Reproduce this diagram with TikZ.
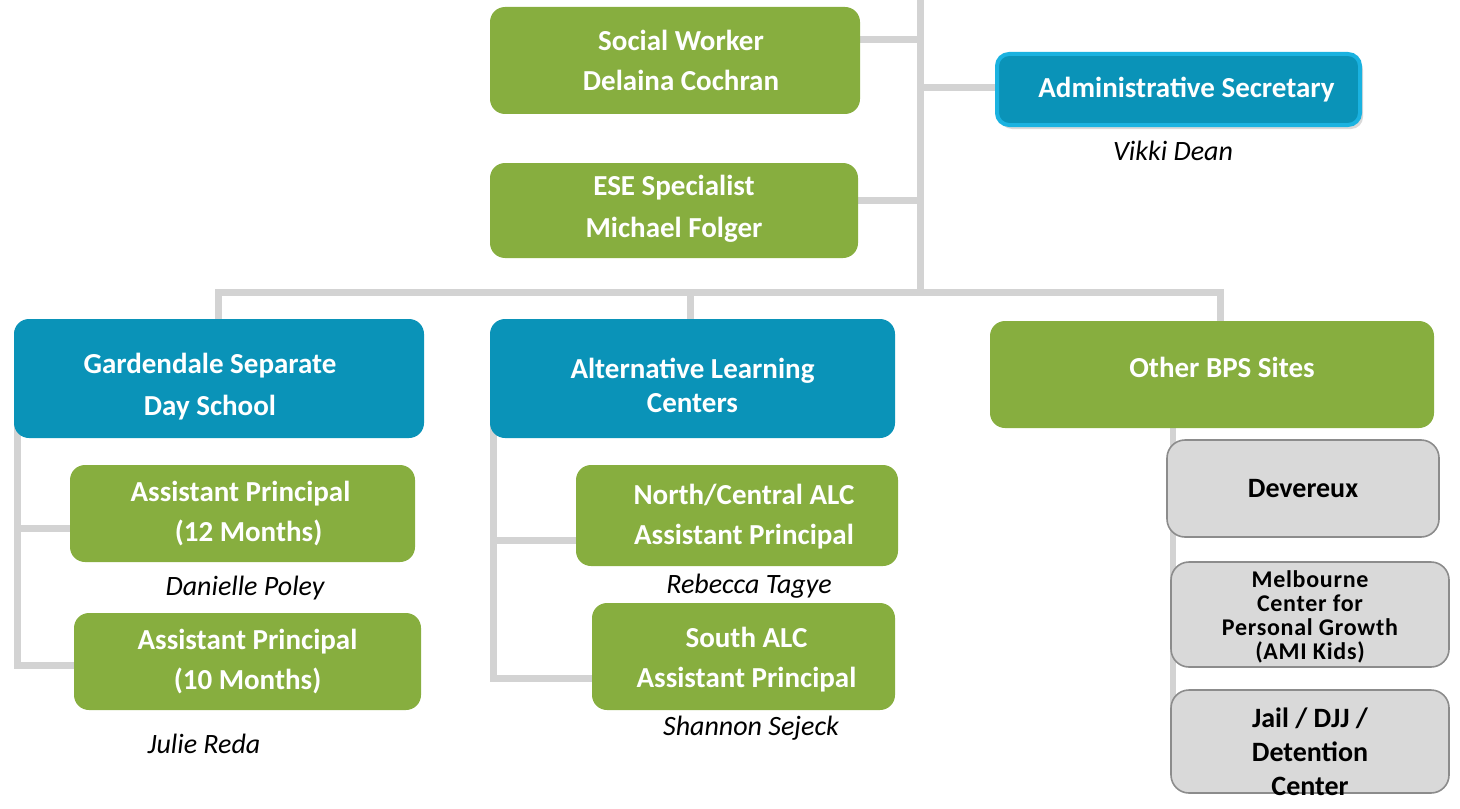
\documentclass[tikz,border=0pt]{standalone}
\usepackage{fontspec}
\setmainfont{Carlito}
\usetikzlibrary{backgrounds,shadows}
\definecolor{grn}{HTML}{87AE3F}
\definecolor{blu}{HTML}{0A93B8}
\definecolor{blul}{HTML}{1AB2E0}
\definecolor{conn}{HTML}{D3D3D3}
\definecolor{gbox}{HTML}{D9D9D9}
\definecolor{gbord}{HTML}{8C8C8C}
\tikzset{
  base/.style={rectangle, rounded corners=7.5pt, align=center, inner sep=0pt,
    font=\fontsize{14.5}{20}\selectfont\bfseries, text=white},
  greenbox/.style={base, fill=grn},
  bluebox/.style={base, fill=blu},
  adminbox/.style={base, fill=blu, draw=blul, line width=2pt, rounded corners=6pt,
    drop shadow={shadow xshift=1.5pt, shadow yshift=-2pt, opacity=0.3}},
  graybox/.style={base, fill=gbox, draw=gbord, line width=0.8pt, text=black, rounded corners=9pt},
  boxtext/.style={inner sep=0pt, align=center, text=white, font=\fontsize{14.5}{20}\selectfont\bfseries},
  person/.style={font=\fontsize{14}{16}\selectfont\itshape, inner sep=0pt, anchor=base},
  link/.style={draw=conn, line width=3.5pt},
  thinlink/.style={draw=conn, line width=3pt},
}
\begin{document}
\begin{tikzpicture}[x=0.5pt,y=-0.5pt]
\useasboundingbox (0,0) rectangle (1460,808);

% boxes
\node[greenbox, minimum width=185pt, minimum height=53.5pt] (sw) at (675,60.5) {};
\node[boxtext] (swt) at ([xshift=3pt]sw.center) {Social Worker\\Delaina Cochran};
\node[adminbox, minimum width=181.5pt, minimum height=35.5pt] (adm) at (1178.5,89.5) {};
\node[boxtext] (admt) at ([xshift=4pt]adm.center) {Administrative Secretary};
\node[person] (vd) at (1173,160) {Vikki Dean};
\node[greenbox, minimum width=184pt, minimum height=47.5pt] (ese) at (674,210.5) {};
\node[boxtext, font=\fontsize{14.5}{21}\selectfont\bfseries] (eset) at ([yshift=1pt]ese.center) {ESE Specialist\\Michael Folger};

\node[bluebox, minimum width=205pt, minimum height=59.5pt] (gds) at (219,378.5) {};
\node[boxtext, font=\fontsize{14.5}{21}\selectfont\bfseries] (gdst) at ([xshift=-4.5pt,yshift=-4pt]gds.center) {Gardendale Separate\\Day School};
\node[bluebox, minimum width=202.5pt, minimum height=59.5pt] (alc) at (692.5,378.5) {};
\node[boxtext, font=\fontsize{14.5}{17}\selectfont\bfseries] (alct) at ([yshift=-3.5pt]alc.center) {Alternative Learning\\Centers};
\node[greenbox, minimum width=222pt, minimum height=53.5pt] (obps) at (1212,374.5) {};
\node[boxtext] (obpst) at ([xshift=5pt,yshift=3.5pt]obps.center) {Other BPS Sites};

\node[greenbox, minimum width=172.5pt, minimum height=48.5pt] (ap12) at (242.5,513.5) {};
\node[boxtext] (ap12t) at ([xshift=-1pt]ap12.center) {Assistant Principal\\\hspace*{8pt}(12 Months)};
\node[person] (dp) at (245,595) {Danielle Poley};
\node[greenbox, minimum width=173.5pt, minimum height=48.5pt] (ap10) at (247.5,661.5) {};
\node[boxtext] (ap10t) at (ap10.center) {Assistant Principal\\(10 Months)};
\node[person] (jr) at (204,753) {Julie Reda};

\node[greenbox, minimum width=161pt, minimum height=50.5pt] (nc) at (737,515.5) {};
\node[boxtext] (nct) at ([xshift=3.5pt,yshift=-0.5pt]nc.center) {North/Central ALC\\Assistant Principal};
\node[person] (rt) at (749,593) {Rebecca Tagye};
\node[greenbox, minimum width=151.5pt, minimum height=53.5pt] (sa) at (743.5,656.5) {};
\node[boxtext] (sat) at ([xshift=1.5pt,yshift=-1.5pt]sa.center) {South ALC\\Assistant Principal};
\node[person] (ss) at (751,735) {Shannon Sejeck};

\node[graybox, minimum width=136pt, minimum height=48.5pt, font=\fontsize{14}{16}\selectfont\bfseries] (dev) at (1303,488.5) {Devereux};
\node[graybox, minimum width=139pt, minimum height=52.5pt] (mel) at (1310,614.5) {};
\node[inner sep=0pt, align=center, font=\fontsize{12}{12}\selectfont\bfseries\addfontfeature{LetterSpace=3}] (melt) at ([yshift=-1pt]mel.center) {Melbourne\\Center for\\Personal Growth\\(AMI Kids)};
\node[graybox, minimum width=139pt, minimum height=51.5pt] (jail) at (1310,741.5) {};
\node[inner sep=0pt, align=center, font=\fontsize{14}{17}\selectfont\bfseries] (jailt) at ([yshift=-5pt]jail.center) {Jail / DJJ /\\Detention\\Center};

% connectors
\coordinate (top) at (920,-5);
\coordinate (bus) at (920,292);
\coordinate (t1) at (920,40);
\coordinate (t2) at (920,88);
\coordinate (t3) at (920,200);
\coordinate (g1) at (17,330);
\coordinate (g2) at (17,528);
\coordinate (g3) at (17,665);
\coordinate (a1) at (493,425);
\coordinate (a2) at (493,540);
\coordinate (a3) at (493,678);
\coordinate (o1) at (1173,428);
\coordinate (o2) at (1173,741);
\begin{pgfonlayer}{background}
  \draw[link] (top) -- (bus);
  \draw[link] (sw.east |- t1) -- (t1);
  \draw[link] (t2) -- (adm.west |- t2);
  \draw[link] (ese.east |- t3) -- (t3);
  \draw[link, line join=miter] ([xshift=-0.5pt]gds.north) -- ([xshift=-0.5pt]gds.north |- bus) -- ([xshift=4pt]obps.north |- bus) -- ([xshift=4pt]obps.north);
  \draw[link] ([xshift=-1pt]alc.north |- bus) -- ([xshift=-1pt]alc.north);
  \draw[link, line join=miter] (g1) -- (g3) -- (ap10.west |- g3);
  \draw[link] (g2) -- (ap12.west |- g2);
  \draw[link, line join=miter] (a1) -- (a3) -- (sa.west |- a3);
  \draw[link] (a2) -- (nc.west |- a2);
  \draw[thinlink] (o1) -- (o2);
\end{pgfonlayer}
\end{tikzpicture}
\end{document}
